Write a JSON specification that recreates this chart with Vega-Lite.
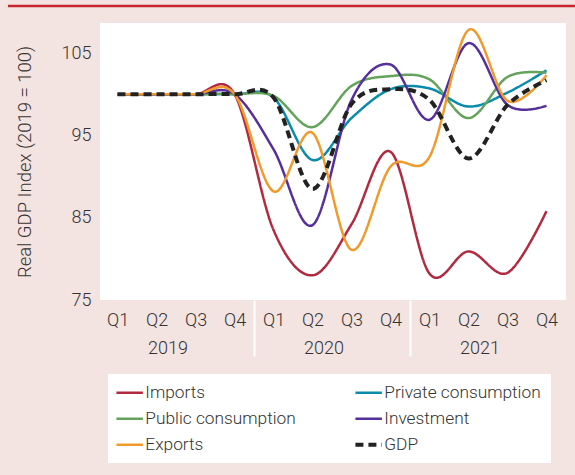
{
  "$schema": "https://vega.github.io/schema/vega-lite/v6.json",
  "width": 466,
  "height": 277,
  "autosize": {"type": "none"},
  "padding": {"left": 100, "top": 23, "right": 9, "bottom": 175},
  "background": "#f3e3e1",
  "config": {
    "view": {"fill": "white", "stroke": null},
    "font": "Roboto",
    "axis": {
      "labelFont": "Roboto",
      "titleFont": "Roboto",
      "labelFontSize": 18,
      "titleFontSize": 18.5,
      "labelFontWeight": 300,
      "titleFontWeight": 300,
      "labelColor": "#333333",
      "titleColor": "#333333",
      "grid": false,
      "domain": false,
      "ticks": false
    },
    "legend": {
      "labelFont": "Roboto",
      "labelFontSize": 17.3,
      "labelFontWeight": 300,
      "labelColor": "#333333",
      "labelLimit": 400
    }
  },
  "data": {
    "values": [
      {"t": 0, "quarter": "2019 Q1", "series": "Imports", "value": 100},
      {"t": 1, "quarter": "2019 Q2", "series": "Imports", "value": 100},
      {"t": 2, "quarter": "2019 Q3", "series": "Imports", "value": 100},
      {"t": 3, "quarter": "2019 Q4", "series": "Imports", "value": 100},
      {"t": 4, "quarter": "2020 Q1", "series": "Imports", "value": 83.5},
      {"t": 5, "quarter": "2020 Q2", "series": "Imports", "value": 78.0},
      {"t": 6, "quarter": "2020 Q3", "series": "Imports", "value": 84.2},
      {"t": 7, "quarter": "2020 Q4", "series": "Imports", "value": 93.0},
      {"t": 8, "quarter": "2021 Q1", "series": "Imports", "value": 78.2},
      {"t": 9, "quarter": "2021 Q2", "series": "Imports", "value": 80.9},
      {"t": 10, "quarter": "2021 Q3", "series": "Imports", "value": 78.3},
      {"t": 11, "quarter": "2021 Q4", "series": "Imports", "value": 85.8},
      {"t": 0, "quarter": "2019 Q1", "series": "Private consumption", "value": 100},
      {"t": 1, "quarter": "2019 Q2", "series": "Private consumption", "value": 100},
      {"t": 2, "quarter": "2019 Q3", "series": "Private consumption", "value": 100},
      {"t": 3, "quarter": "2019 Q4", "series": "Private consumption", "value": 100},
      {"t": 4, "quarter": "2020 Q1", "series": "Private consumption", "value": 99.6},
      {"t": 5, "quarter": "2020 Q2", "series": "Private consumption", "value": 92.0},
      {"t": 6, "quarter": "2020 Q3", "series": "Private consumption", "value": 97.1},
      {"t": 7, "quarter": "2020 Q4", "series": "Private consumption", "value": 100.6},
      {"t": 8, "quarter": "2021 Q1", "series": "Private consumption", "value": 100.7},
      {"t": 9, "quarter": "2021 Q2", "series": "Private consumption", "value": 98.5},
      {"t": 10, "quarter": "2021 Q3", "series": "Private consumption", "value": 100.2},
      {"t": 11, "quarter": "2021 Q4", "series": "Private consumption", "value": 102.9},
      {"t": 0, "quarter": "2019 Q1", "series": "Public consumption", "value": 100},
      {"t": 1, "quarter": "2019 Q2", "series": "Public consumption", "value": 100},
      {"t": 2, "quarter": "2019 Q3", "series": "Public consumption", "value": 100},
      {"t": 3, "quarter": "2019 Q4", "series": "Public consumption", "value": 100},
      {"t": 4, "quarter": "2020 Q1", "series": "Public consumption", "value": 99.8},
      {"t": 5, "quarter": "2020 Q2", "series": "Public consumption", "value": 96.0},
      {"t": 6, "quarter": "2020 Q3", "series": "Public consumption", "value": 101.0},
      {"t": 7, "quarter": "2020 Q4", "series": "Public consumption", "value": 102.2},
      {"t": 8, "quarter": "2021 Q1", "series": "Public consumption", "value": 101.8},
      {"t": 9, "quarter": "2021 Q2", "series": "Public consumption", "value": 97.1},
      {"t": 10, "quarter": "2021 Q3", "series": "Public consumption", "value": 102.1},
      {"t": 11, "quarter": "2021 Q4", "series": "Public consumption", "value": 102.6},
      {"t": 0, "quarter": "2019 Q1", "series": "Investment", "value": 100},
      {"t": 1, "quarter": "2019 Q2", "series": "Investment", "value": 100},
      {"t": 2, "quarter": "2019 Q3", "series": "Investment", "value": 100},
      {"t": 3, "quarter": "2019 Q4", "series": "Investment", "value": 100},
      {"t": 4, "quarter": "2020 Q1", "series": "Investment", "value": 93.3},
      {"t": 5, "quarter": "2020 Q2", "series": "Investment", "value": 84.1},
      {"t": 6, "quarter": "2020 Q3", "series": "Investment", "value": 99.3},
      {"t": 7, "quarter": "2020 Q4", "series": "Investment", "value": 103.6},
      {"t": 8, "quarter": "2021 Q1", "series": "Investment", "value": 96.9},
      {"t": 9, "quarter": "2021 Q2", "series": "Investment", "value": 106.2},
      {"t": 10, "quarter": "2021 Q3", "series": "Investment", "value": 98.7},
      {"t": 11, "quarter": "2021 Q4", "series": "Investment", "value": 98.6},
      {"t": 0, "quarter": "2019 Q1", "series": "Exports", "value": 100},
      {"t": 1, "quarter": "2019 Q2", "series": "Exports", "value": 100},
      {"t": 2, "quarter": "2019 Q3", "series": "Exports", "value": 100},
      {"t": 3, "quarter": "2019 Q4", "series": "Exports", "value": 100},
      {"t": 4, "quarter": "2020 Q1", "series": "Exports", "value": 88.2},
      {"t": 5, "quarter": "2020 Q2", "series": "Exports", "value": 95.3},
      {"t": 6, "quarter": "2020 Q3", "series": "Exports", "value": 81.1},
      {"t": 7, "quarter": "2020 Q4", "series": "Exports", "value": 91.2},
      {"t": 8, "quarter": "2021 Q1", "series": "Exports", "value": 92.4},
      {"t": 9, "quarter": "2021 Q2", "series": "Exports", "value": 107.8},
      {"t": 10, "quarter": "2021 Q3", "series": "Exports", "value": 99.2},
      {"t": 11, "quarter": "2021 Q4", "series": "Exports", "value": 102.3},
      {"t": 0, "quarter": "2019 Q1", "series": "GDP", "value": 100},
      {"t": 1, "quarter": "2019 Q2", "series": "GDP", "value": 100},
      {"t": 2, "quarter": "2019 Q3", "series": "GDP", "value": 100},
      {"t": 3, "quarter": "2019 Q4", "series": "GDP", "value": 100},
      {"t": 4, "quarter": "2020 Q1", "series": "GDP", "value": 99.6},
      {"t": 5, "quarter": "2020 Q2", "series": "GDP", "value": 88.5},
      {"t": 6, "quarter": "2020 Q3", "series": "GDP", "value": 98.8},
      {"t": 7, "quarter": "2020 Q4", "series": "GDP", "value": 100.6},
      {"t": 8, "quarter": "2021 Q1", "series": "GDP", "value": 99.3},
      {"t": 9, "quarter": "2021 Q2", "series": "GDP", "value": 92.2},
      {"t": 10, "quarter": "2021 Q3", "series": "GDP", "value": 98.7},
      {"t": 11, "quarter": "2021 Q4", "series": "GDP", "value": 101.7}
    ]
  },
  "resolve": {"axis": {"x": "independent"}},
  "layer": [
    {
      "data": {"values": [{"decoration": "top rule"}]},
      "mark": {"type": "rule", "color": "#c8262f", "strokeWidth": 2.5},
      "encoding": {
        "x": {
          "datum": -2.81,
          "type": "quantitative",
          "scale": {"domain": [-0.45, 11.5], "nice": false, "zero": false},
          "axis": {
            "orient": "bottom",
            "values": [1.28, 5.28, 9.28],
            "labelExpr": "datum.value < 3 ? '2019' : datum.value < 7 ? '2020' : '2021'",
            "labelPadding": 39,
            "labelFlush": false,
            "labelOverlap": false,
            "labelBound": false,
            "title": null
          }
        },
        "x2": {"datum": 11.73},
        "y": {
          "datum": 110.72,
          "type": "quantitative",
          "scale": {"domain": [75, 108.65], "nice": false, "zero": false},
          "title": "Real GDP Index (2019 = 100)"
        }
      }
    },
    {
      "transform": [{"filter": "datum.series !== 'GDP'"}],
      "mark": {"type": "line", "interpolate": "cardinal", "strokeWidth": 2.5},
      "encoding": {
        "x": {
          "field": "t",
          "type": "quantitative",
          "scale": {"domain": [-0.45, 11.5], "nice": false, "zero": false},
          "axis": {
            "orient": "bottom",
            "values": [0, 1, 2, 3, 4, 5, 6, 7, 8, 9, 10, 11],
            "labelExpr": "'Q' + (datum.value % 4 + 1)",
            "labelPadding": 11,
            "labelFlush": false,
            "labelOverlap": false,
            "labelBound": false,
            "title": null
          }
        },
        "y": {
          "field": "value",
          "type": "quantitative",
          "scale": {"domain": [75, 108.65], "nice": false, "zero": false},
          "axis": {"values": [75, 85, 95, 105], "labelPadding": 9, "titlePadding": 27},
          "title": "Real GDP Index (2019 = 100)"
        },
        "color": {
          "field": "series",
          "type": "nominal",
          "scale": {
            "domain": ["Imports", "Private consumption", "Public consumption", "Investment", "Exports", "GDP"],
            "range": ["#b02a40", "#0a8bab", "#63a35c", "#55309b", "#f09a2c", "#222222"]
          },
          "legend": {
            "title": null,
            "orient": "none",
            "legendX": 8,
            "legendY": 351,
            "direction": "horizontal",
            "columns": 2,
            "columnPadding": 51,
            "rowPadding": 8,
            "padding": 10,
            "fillColor": "white",
            "symbolType": "stroke",
            "symbolSize": 700,
            "symbolOffset": 3,
            "labelOffset": 7,
            "encode": {"symbols": {"update": {"strokeWidth": {"signal": "datum.value === 'GDP' ? 4 : 2.5"}}}}
          }
        },
        "strokeDash": {
          "field": "series",
          "type": "nominal",
          "scale": {
            "domain": ["Imports", "Private consumption", "Public consumption", "Investment", "Exports", "GDP"],
            "range": [[1, 0], [1, 0], [1, 0], [1, 0], [1, 0], [8, 5]]
          },
          "legend": null
        }
      }
    },
    {
      "transform": [{"filter": "datum.series === 'GDP'"}],
      "mark": {"type": "line", "interpolate": "cardinal", "strokeWidth": 4},
      "encoding": {
        "x": {
          "field": "t",
          "type": "quantitative",
          "scale": {"domain": [-0.45, 11.5], "nice": false, "zero": false},
          "axis": {
            "orient": "bottom",
            "values": [3.5, 7.5],
            "labels": false,
            "ticks": true,
            "tickSize": 56,
            "tickWidth": 2,
            "tickColor": "white",
            "title": null
          }
        },
        "y": {
          "field": "value",
          "type": "quantitative",
          "scale": {"domain": [75, 108.65], "nice": false, "zero": false},
          "title": "Real GDP Index (2019 = 100)"
        },
        "color": {
          "field": "series",
          "type": "nominal",
          "scale": {
            "domain": ["Imports", "Private consumption", "Public consumption", "Investment", "Exports", "GDP"],
            "range": ["#b02a40", "#0a8bab", "#63a35c", "#55309b", "#f09a2c", "#222222"]
          }
        },
        "strokeDash": {
          "field": "series",
          "type": "nominal",
          "scale": {
            "domain": ["Imports", "Private consumption", "Public consumption", "Investment", "Exports", "GDP"],
            "range": [[1, 0], [1, 0], [1, 0], [1, 0], [1, 0], [8, 5]]
          },
          "legend": null
        }
      }
    }
  ]
}
